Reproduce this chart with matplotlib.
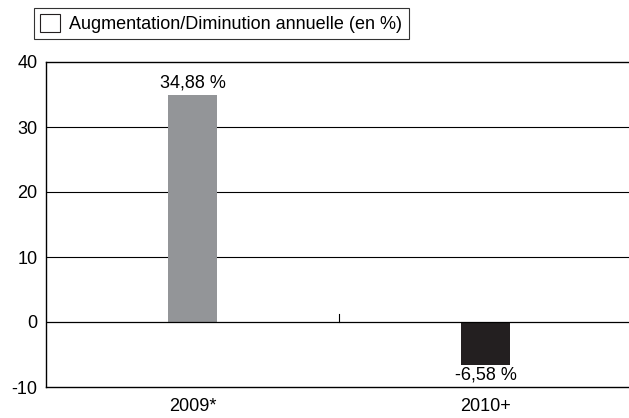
import matplotlib
matplotlib.use("Agg")
import matplotlib.pyplot as plt
from matplotlib.patches import Patch

categories = ["2009*", "2010+"]
values = [34.88, -6.58]
labels = ["34,88 %", "-6,58 %"]
colors = ["#939598", "#231f20"]
yticks = [-10, 0, 10, 20, 30, 40]
legend_label = "Augmentation/Diminution annuelle (en %)"

plt.rcParams['font.family'] = ['Liberation Sans', 'DejaVu Sans']

fig = plt.figure(figsize=(6.29, 4.18), dpi=100)
ax = fig.add_axes([46/629, 1-387/418, (632-46)/629, (387-62)/418])

x = list(range(len(categories)))
ax.bar(x, values, width=0.165, color=colors, zorder=3)
ax.set_xlim(-0.5, 1.5)
ax.set_ylim(-10, 40)
ax.set_yticks(yticks)
ax.set_yticklabels([str(t) for t in yticks], fontsize=13)
ax.set_xticks(x)
ax.set_xticklabels(categories, fontsize=13)
ax.tick_params(axis='y', length=0, pad=6)
ax.tick_params(axis='x', length=0, pad=8)
for y in [10, 20, 30]:
    ax.axhline(y, color='black', lw=0.8, zorder=1)
ax.axhline(0, color='black', lw=0.9, zorder=4)
ax.plot([0.5, 0.5], [0, 1.3], color='black', lw=0.8, zorder=4)
for s in ['left', 'top', 'bottom']:
    ax.spines[s].set_linewidth(1.0)
ax.spines['right'].set_visible(False)

for xi, v, lab in zip(x, values, labels):
    if v >= 0:
        ax.text(xi, v + 0.6, lab, ha='center', va='bottom', fontsize=13)
    else:
        ax.text(xi, v - 0.3, lab, ha='center', va='top', fontsize=13)

handle = Patch(facecolor='white', edgecolor='#231f20', linewidth=0.8)
leg = fig.legend([handle], [legend_label], loc='upper left',
                 bbox_to_anchor=(34/629, 1-8/418), fontsize=13, frameon=True,
                 fancybox=False, edgecolor='black', borderpad=0.35,
                 handlelength=1.1, handleheight=1.1, handletextpad=0.5,
                 borderaxespad=0)
leg.get_frame().set_linewidth(0.8)

fig.savefig("out.png", dpi=100)
